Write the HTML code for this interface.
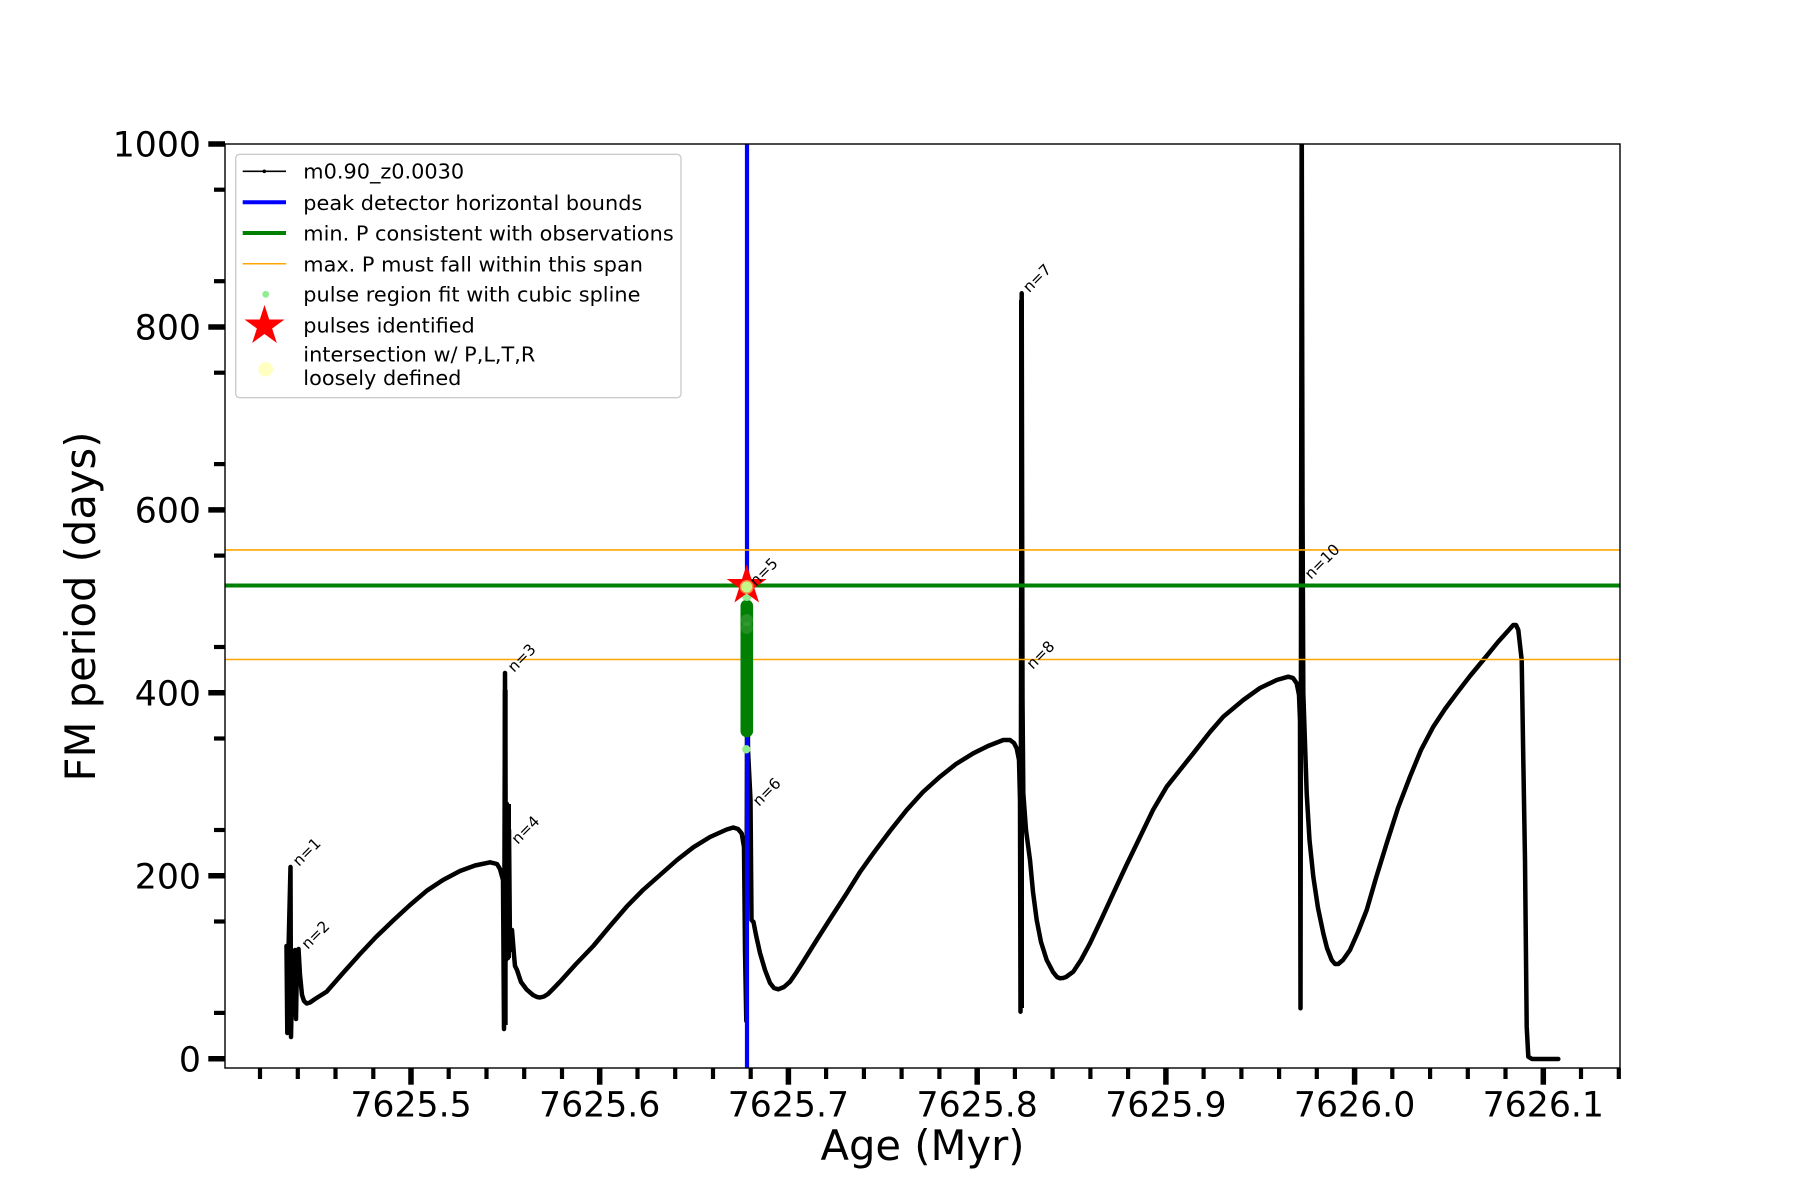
<!DOCTYPE html>
<html>
<head>
<meta charset="utf-8">
<style>
  html,body{margin:0;padding:0;background:#fff;}
  svg{display:block;}
  text{font-family:"DejaVu Sans","Liberation Sans",sans-serif;fill:#000;}
</style>
</head>
<body>
<svg width="1800" height="1200" viewBox="0 0 1800 1200" xmlns="http://www.w3.org/2000/svg">
  <rect x="0" y="0" width="1800" height="1200" fill="#fff"/>
  <defs>
    <clipPath id="ax"><rect x="225" y="144" width="1395" height="924"/></clipPath>
  </defs>

  <g clip-path="url(#ax)">
    <!-- black curve -->
    <path fill="none" stroke="#000" stroke-width="4.5" stroke-linejoin="round" stroke-linecap="round"
      d="M286.5,946 L287.3,1033 L288.5,950 L290.5,867 L291,1037 L292.5,960 L295,950 L296,1019 L297,960 L298.5,949 L300,975 L302,995 L304,1001 L306.7,1003.5 L310,1002.5 L315,999 L326.7,991.6 L343,973 L360,954 L376,937 L393.3,920.4 L410,905 L426.7,890.8 L443,880 L460,871 L475,865.5 L490,862.3 L497,864 L500,869 L503,880 L504,1029 L505,673 L506,960 L507,804 L508,958 L509,830 L510,950 L512,930 L514,955 L515,966 L517,970 L521,982 L526.7,989.6 L533,995 L537,997 L540,997.5 L544,996.5 L548,994 L553,989 L560,981.7 L576,964 L593.3,946 L610,926 L626.7,906.6 L643,890 L660,875 L677,860 L693.3,847.3 L710,837 L726.7,829.5 L733.3,827.5 L738,829 L741.7,833.4 L744,847 L745,950 L746.3,1021 L747,740 L747.2,600 L748,750 L750.5,800 L751.5,920 L753.5,922 L756,935 L760,953 L765,970 L770,983 L774,988 L778.3,989.3 L784,987 L790,981.7 L796,973 L803,962 L816.7,940 L832,916 L846.7,893.3 L860,872 L873.3,853.3 L890,831 L906.7,810 L923,792 L940,776.7 L956,764 L973.3,753.3 L988,746 L1003.3,740 L1010,740 L1014,743 L1016.7,748.3 L1019,760 L1020,800 L1020.5,1011.7 L1021.7,293.3 L1022.5,700 L1023.3,793.3 L1026,830 L1030,860 L1033,892 L1036.7,920 L1041,942 L1046.7,960 L1053,972 L1057,977 L1060,978.3 L1063,978 L1066,977 L1073.3,971.7 L1081,960 L1090,943.3 L1101,920 L1113.3,893.3 L1126,866 L1140,837 L1153,810 L1166.7,786.7 L1180,770 L1193.3,753.3 L1210,732 L1223.3,716.7 L1243.3,700 L1260,688 L1276.7,680 L1288.3,676.7 L1293,678 L1296.7,683.3 L1299,695 L1300,720 L1300.5,1008.3 L1301.7,100 L1302.5,500 L1303.3,693.3 L1306.7,793.3 L1309.5,840 L1313.3,876.7 L1318,908 L1323.3,933.3 L1327,948 L1331.7,960 L1335,964 L1338.3,964 L1343,960 L1350,950 L1358,932 L1366.7,910 L1376,878 L1386.7,843.3 L1398,808 L1410,776.7 L1421,750 L1433.3,726.7 L1445,709 L1456.7,693.3 L1470,676 L1483.3,660 L1498,642 L1513.3,625 L1516,625 L1518.3,630 L1521.7,660 L1523.3,760 L1525,860 L1526.7,1026.7 L1528.3,1056.7 L1532,1059 L1558.3,1059"/>
    <!-- dense bands near spikes -->
    <line x1="508" y1="804" x2="508" y2="958" stroke="#000" stroke-width="6"/>
    <line x1="505.2" y1="690" x2="505.2" y2="1025" stroke="#000" stroke-width="5"/>
    <line x1="1021.5" y1="300" x2="1021.5" y2="1008" stroke="#000" stroke-width="5"/>

    <!-- vertical blue line -->
    <line x1="747" y1="144" x2="747" y2="1068" stroke="#0000ff" stroke-width="4.2"/>
    <!-- green horizontal -->
    <line x1="225" y1="585.5" x2="1620" y2="585.5" stroke="#008000" stroke-width="4"/>
    <!-- orange horizontals -->
    <line x1="225" y1="549.9" x2="1620" y2="549.9" stroke="#ffa500" stroke-width="1.6"/>
    <line x1="225" y1="659.5" x2="1620" y2="659.5" stroke="#ffa500" stroke-width="1.6"/>

    <!-- green spline dots column -->
    <line x1="746.8" y1="606" x2="746.8" y2="731" stroke="#007f00" stroke-width="12.6" stroke-linecap="round"/>
    <circle cx="746.8" cy="620" r="6" fill="#3f9f3f" opacity="0.6"/>
    <circle cx="746.8" cy="628" r="6" fill="#3f9f3f" opacity="0.5"/>
    <circle cx="746.8" cy="596" r="5" fill="#90ee90"/>
    <circle cx="746.3" cy="749.3" r="4.2" fill="#90ee90"/>

    <!-- star -->
    <polygon transform="translate(746.7,585.5)" fill="#ff0000"
      points="0,-21 4.71,-6.49 19.97,-6.49 7.63,2.48 12.34,16.99 0,8.02 -12.34,16.99 -7.63,2.48 -19.97,-6.49 -4.71,-6.49"/>
    <circle cx="746.7" cy="587" r="5.5" fill="#90ee90"/>
    <circle cx="746.7" cy="587" r="7" fill="#ffff80" opacity="0.5"/>
  </g>

  <!-- n labels -->
  <g font-size="15.3">
    <text transform="translate(299,867) rotate(-45)">n=1</text>
    <text transform="translate(307.7,950) rotate(-45)">n=2</text>
    <text transform="translate(514,673) rotate(-45)">n=3</text>
    <text transform="translate(517.7,845) rotate(-45)">n=4</text>
    <text transform="translate(756,587) rotate(-45)">n=5</text>
    <text transform="translate(759,807) rotate(-45)">n=6</text>
    <text transform="translate(1029.3,293.3) rotate(-45)">n=7</text>
    <text transform="translate(1032.7,670) rotate(-45)">n=8</text>
    <text transform="translate(1311,580) rotate(-45)">n=10</text>
  </g>

  <!-- axes spines -->
  <rect x="225" y="144" width="1395" height="924" fill="none" stroke="#000" stroke-width="1.4"/>

  <!-- y ticks -->
  <g stroke="#000" stroke-width="5.5">
    <line x1="208.3" y1="1058.7" x2="225" y2="1058.7"/>
    <line x1="208.3" y1="875.8" x2="225" y2="875.8"/>
    <line x1="208.3" y1="692.8" x2="225" y2="692.8"/>
    <line x1="208.3" y1="509.9" x2="225" y2="509.9"/>
    <line x1="208.3" y1="327" x2="225" y2="327"/>
    <line x1="208.3" y1="144" x2="225" y2="144"/>
  </g>
  <g stroke="#000" stroke-width="4.2">
    <line x1="214" y1="1012.9" x2="225" y2="1012.9"/>
    <line x1="214" y1="921.5" x2="225" y2="921.5"/>
    <line x1="214" y1="830" x2="225" y2="830"/>
    <line x1="214" y1="738.5" x2="225" y2="738.5"/>
    <line x1="214" y1="647" x2="225" y2="647"/>
    <line x1="214" y1="555.6" x2="225" y2="555.6"/>
    <line x1="214" y1="464.1" x2="225" y2="464.1"/>
    <line x1="214" y1="372.7" x2="225" y2="372.7"/>
    <line x1="214" y1="281.2" x2="225" y2="281.2"/>
    <line x1="214" y1="189.7" x2="225" y2="189.7"/>
  </g>
  <g font-size="34.7" text-anchor="end">
    <text x="201" y="1071.4">0</text>
    <text x="201" y="888.5">200</text>
    <text x="201" y="705.5">400</text>
    <text x="201" y="522.6">600</text>
    <text x="201" y="339.7">800</text>
    <text x="201" y="156.7">1000</text>
  </g>

  <!-- x ticks -->
  <g stroke="#000" stroke-width="5.5">
    <line x1="411" y1="1068" x2="411" y2="1084.7"/>
    <line x1="599.7" y1="1068" x2="599.7" y2="1084.7"/>
    <line x1="788.4" y1="1068" x2="788.4" y2="1084.7"/>
    <line x1="977.2" y1="1068" x2="977.2" y2="1084.7"/>
    <line x1="1165.9" y1="1068" x2="1165.9" y2="1084.7"/>
    <line x1="1354.6" y1="1068" x2="1354.6" y2="1084.7"/>
    <line x1="1543.3" y1="1068" x2="1543.3" y2="1084.7"/>
  </g>
  <g stroke="#000" stroke-width="4.2">
    <line x1="260" y1="1068" x2="260" y2="1079"/>
    <line x1="297.8" y1="1068" x2="297.8" y2="1079"/>
    <line x1="335.5" y1="1068" x2="335.5" y2="1079"/>
    <line x1="373.3" y1="1068" x2="373.3" y2="1079"/>
    <line x1="448.7" y1="1068" x2="448.7" y2="1079"/>
    <line x1="486.5" y1="1068" x2="486.5" y2="1079"/>
    <line x1="524.2" y1="1068" x2="524.2" y2="1079"/>
    <line x1="562" y1="1068" x2="562" y2="1079"/>
    <line x1="637.5" y1="1068" x2="637.5" y2="1079"/>
    <line x1="675.2" y1="1068" x2="675.2" y2="1079"/>
    <line x1="713" y1="1068" x2="713" y2="1079"/>
    <line x1="750.7" y1="1068" x2="750.7" y2="1079"/>
    <line x1="826.1" y1="1068" x2="826.1" y2="1079"/>
    <line x1="863.9" y1="1068" x2="863.9" y2="1079"/>
    <line x1="901.6" y1="1068" x2="901.6" y2="1079"/>
    <line x1="939.4" y1="1068" x2="939.4" y2="1079"/>
    <line x1="1014.9" y1="1068" x2="1014.9" y2="1079"/>
    <line x1="1052.6" y1="1068" x2="1052.6" y2="1079"/>
    <line x1="1090.4" y1="1068" x2="1090.4" y2="1079"/>
    <line x1="1128.1" y1="1068" x2="1128.1" y2="1079"/>
    <line x1="1203.6" y1="1068" x2="1203.6" y2="1079"/>
    <line x1="1241.4" y1="1068" x2="1241.4" y2="1079"/>
    <line x1="1279.1" y1="1068" x2="1279.1" y2="1079"/>
    <line x1="1316.8" y1="1068" x2="1316.8" y2="1079"/>
    <line x1="1392.3" y1="1068" x2="1392.3" y2="1079"/>
    <line x1="1430.1" y1="1068" x2="1430.1" y2="1079"/>
    <line x1="1467.8" y1="1068" x2="1467.8" y2="1079"/>
    <line x1="1505.5" y1="1068" x2="1505.5" y2="1079"/>
    <line x1="1581" y1="1068" x2="1581" y2="1079"/>
    <line x1="1618.8" y1="1068" x2="1618.8" y2="1079"/>
  </g>
  <g font-size="34.7" text-anchor="middle">
    <text x="411" y="1116.7">7625.5</text>
    <text x="599.7" y="1116.7">7625.6</text>
    <text x="788.4" y="1116.7">7625.7</text>
    <text x="977.2" y="1116.7">7625.8</text>
    <text x="1165.9" y="1116.7">7625.9</text>
    <text x="1354.6" y="1116.7">7626.0</text>
    <text x="1543.3" y="1116.7">7626.1</text>
  </g>

  <!-- axis labels -->
  <text x="922.5" y="1160" font-size="41.67" text-anchor="middle">Age (Myr)</text>
  <text transform="translate(95,606.5) rotate(-90)" font-size="41.67" text-anchor="middle">FM period (days)</text>

  <!-- legend -->
  <rect x="235.7" y="154.3" width="445.3" height="243.4" rx="4" ry="4" fill="#fff" fill-opacity="0.8" stroke="#cccccc" stroke-width="1.4"/>
  <line x1="242.7" y1="171.3" x2="286" y2="171.3" stroke="#000" stroke-width="1.6"/>
  <circle cx="264.3" cy="171.3" r="1.8" fill="#000"/>
  <line x1="242.7" y1="202.3" x2="286" y2="202.3" stroke="#0000ff" stroke-width="4"/>
  <line x1="242.7" y1="233" x2="286" y2="233" stroke="#008000" stroke-width="4"/>
  <line x1="242.7" y1="263.7" x2="286" y2="263.7" stroke="#ffa500" stroke-width="1.5"/>
  <circle cx="265.7" cy="294.3" r="3.4" fill="#90ee90"/>
  <polygon transform="translate(264.5,326)" fill="#ff0000"
    points="0,-21 4.71,-6.49 19.97,-6.49 7.63,2.48 12.34,16.99 0,8.02 -12.34,16.99 -7.63,2.48 -19.97,-6.49 -4.71,-6.49"/>
  <circle cx="265.7" cy="369.3" r="7.2" fill="#ffff80" opacity="0.5"/>
  <g font-size="20.83">
    <text x="303.3" y="178.3">m0.90_z0.0030</text>
    <text x="303.3" y="210">peak detector horizontal bounds</text>
    <text x="303.3" y="240.7">min. P consistent with observations</text>
    <text x="303.3" y="271.3">max. P must fall within this span</text>
    <text x="303.3" y="301.7">pulse region fit with cubic spline</text>
    <text x="303.3" y="332.3">pulses identified</text>
    <text x="303.3" y="361.7">intersection w/ P,L,T,R</text>
    <text x="303.3" y="385">loosely defined</text>
  </g>
</svg>
</body>
</html>
